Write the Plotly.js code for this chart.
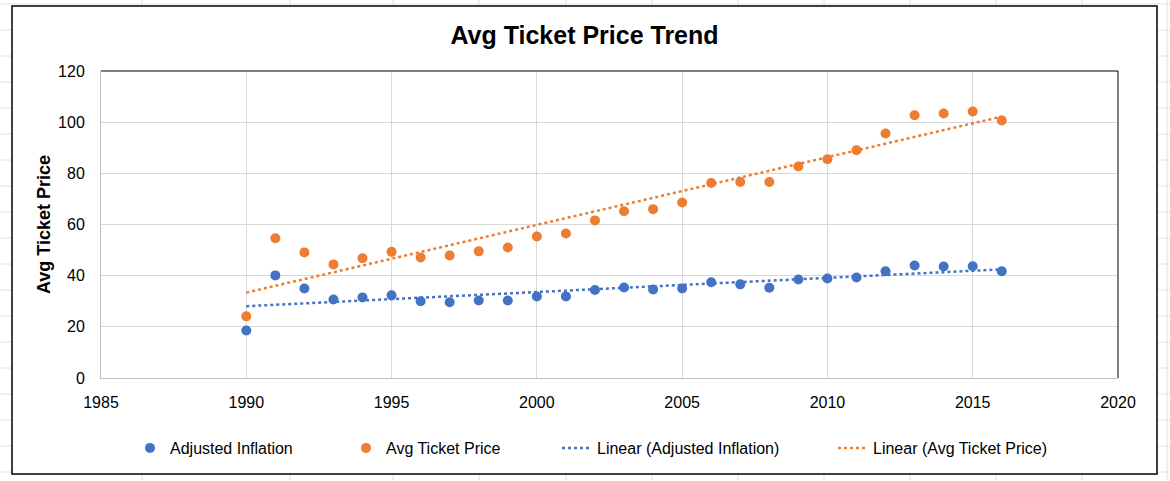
<!DOCTYPE html>
<html>
<head>
<meta charset="utf-8">
<script src="https://cdn.plot.ly/plotly-3.0.1.min.js"></script>
<style>html,body{margin:0;padding:0;background:#fff;}#chart{width:1170px;height:481px;}</style>
</head>
<body>
<div id="chart"></div>
<script>
// ---- data ----
const years = [1990,1991,1992,1993,1994,1995,1996,1997,1998,1999,2000,2001,2002,2003,2004,2005,2006,2007,2008,2009,2010,2011,2012,2013,2014,2015,2016];
const adjustedInflation = [18.6,40.1,35.0,30.7,31.5,32.3,30.0,29.6,30.3,30.3,31.9,31.9,34.4,35.4,34.6,35.0,37.4,36.6,35.3,38.5,38.9,39.3,41.7,44.0,43.6,43.7,41.7];
const avgTicketPrice = [24.1,54.6,49.1,44.4,46.8,49.3,47.1,47.9,49.5,51.0,55.3,56.5,61.6,65.2,66.0,68.6,76.2,76.6,76.6,82.7,85.5,89.0,95.6,102.7,103.4,104.2,100.7];
const seriesNames = ["Adjusted Inflation","Avg Ticket Price","Linear (Adjusted Inflation)","Linear (Avg Ticket Price)"];
const xTicks = [1985,1990,1995,2000,2005,2010,2015,2020];
const yTicks = [0,20,40,60,80,100,120];

// least-squares linear trendline (as the spreadsheet computes it)
function linearFit(xs, ys){
  const n = xs.length;
  let sx=0, sy=0, sxx=0, sxy=0;
  for(let i=0;i<n;i++){ sx+=xs[i]; sy+=ys[i]; sxx+=xs[i]*xs[i]; sxy+=xs[i]*ys[i]; }
  const b = (n*sxy - sx*sy)/(n*sxx - sx*sx);
  const a = (sy - b*sx)/n;
  return xs.map(x => a + b*x);
}
const trendInfl = linearFit(years, adjustedInflation);
const trendPrice = linearFit(years, avgTicketPrice);

const BLUE = '#4472C4', ORANGE = '#ED7D31';
const FONT = 'Liberation Sans, Arial, sans-serif';

// layout geometry (pixels)
const W = 1170, H = 481;
const M = {l:101, r:52, t:71, b:103};
const PW = W - M.l - M.r, PH = H - M.t - M.b;
const px = x => (x - M.l)/PW;
const py = y => (H - M.b - y)/PH;

const traces = [
  {x: years, y: adjustedInflation, type:'scatter', mode:'markers', name: seriesNames[0],
   marker:{color:BLUE, size:10}, legend:'legend'},
  {x: years, y: avgTicketPrice, type:'scatter', mode:'markers', name: seriesNames[1],
   marker:{color:ORANGE, size:10}, legend:'legend2'},
  {x: years, y: trendInfl, type:'scatter', mode:'lines', name: seriesNames[2],
   line:{color:BLUE, width:2.5, dash:'dot'}, legend:'legend3'},
  {x: years, y: trendPrice, type:'scatter', mode:'lines', name: seriesNames[3],
   line:{color:ORANGE, width:2.5, dash:'dot'}, legend:'legend4'}
];

// spreadsheet cell grid behind the chart
const shapes = [];
const colLines = [142,290,393,479,566,652,738,824,910,996,1082,1167];
colLines.forEach(c => shapes.push({type:'line', xref:'paper', yref:'paper', x0:px(c), x1:px(c), y0:py(0), y1:py(H), line:{color:'#E0E0E0', width:1}, layer:'below'}));
for(let r=4; r<H; r+=26){
  shapes.push({type:'line', xref:'paper', yref:'paper', x0:px(0), x1:px(W), y0:py(r), y1:py(r), line:{color:'#E0E0E0', width:1}, layer:'below'});
}
// chart area
shapes.push({type:'rect', xref:'paper', yref:'paper', x0:px(12), x1:px(1157), y0:py(474), y1:py(6), fillcolor:'#fff', line:{color:'#000', width:1.5}, layer:'below'});
// plot-area border top and right
shapes.push({type:'line', xref:'paper', yref:'paper', x0:0, x1:1, y0:1, y1:1, line:{color:'#000', width:1}, layer:'above'});
shapes.push({type:'line', xref:'paper', yref:'paper', x0:1, x1:1, y0:0, y1:1, line:{color:'#000', width:1}, layer:'above'});

const legBase = {orientation:'h', xanchor:'left', yanchor:'middle', y: py(448), bgcolor:'rgba(0,0,0,0)', borderwidth:0,
  font:{family:FONT, size:16, color:'#000'}};
const layout = {
  width: W, height: H,
  margin: M,
  paper_bgcolor:'#fff', plot_bgcolor:'rgba(0,0,0,0)',
  title:{text:'<b>Avg Ticket Price Trend</b>', font:{family:FONT, size:25, color:'#000'}, x:px(584.5), xref:'paper', xanchor:'center', y: 1-35/H, yanchor:'middle'},
  xaxis:{range:[1985,2020], tickvals:xTicks, showgrid:true, gridcolor:'#D9D9D9', gridwidth:1, zeroline:false,
    showline:true, linecolor:'#BFBFBF', linewidth:1, ticks:'', ticklabelstandoff:10,
    tickfont:{family:FONT, size:16, color:'#000'}},
  yaxis:{range:[0,120], tickvals:yTicks, showgrid:true, gridcolor:'#D9D9D9', gridwidth:1, zeroline:false,
    showline:true, linecolor:'#BFBFBF', linewidth:1, ticks:'', ticklabelstandoff:12,
    tickfont:{family:FONT, size:16, color:'#000'},
    title:{text:'<b>Avg Ticket Price</b>', font:{family:FONT, size:18, color:'#000'}, standoff:2}},
  showlegend:true,
  legend: Object.assign({}, legBase, {x: px(130)}),
  legend2: Object.assign({}, legBase, {x: px(346)}),
  legend3: Object.assign({}, legBase, {x: px(557)}),
  legend4: Object.assign({}, legBase, {x: px(833)}),
  shapes: shapes,
  hovermode:false
};
Plotly.newPlot('chart', traces, layout, {staticPlot:true, displayModeBar:false});
</script>
</body>
</html>
